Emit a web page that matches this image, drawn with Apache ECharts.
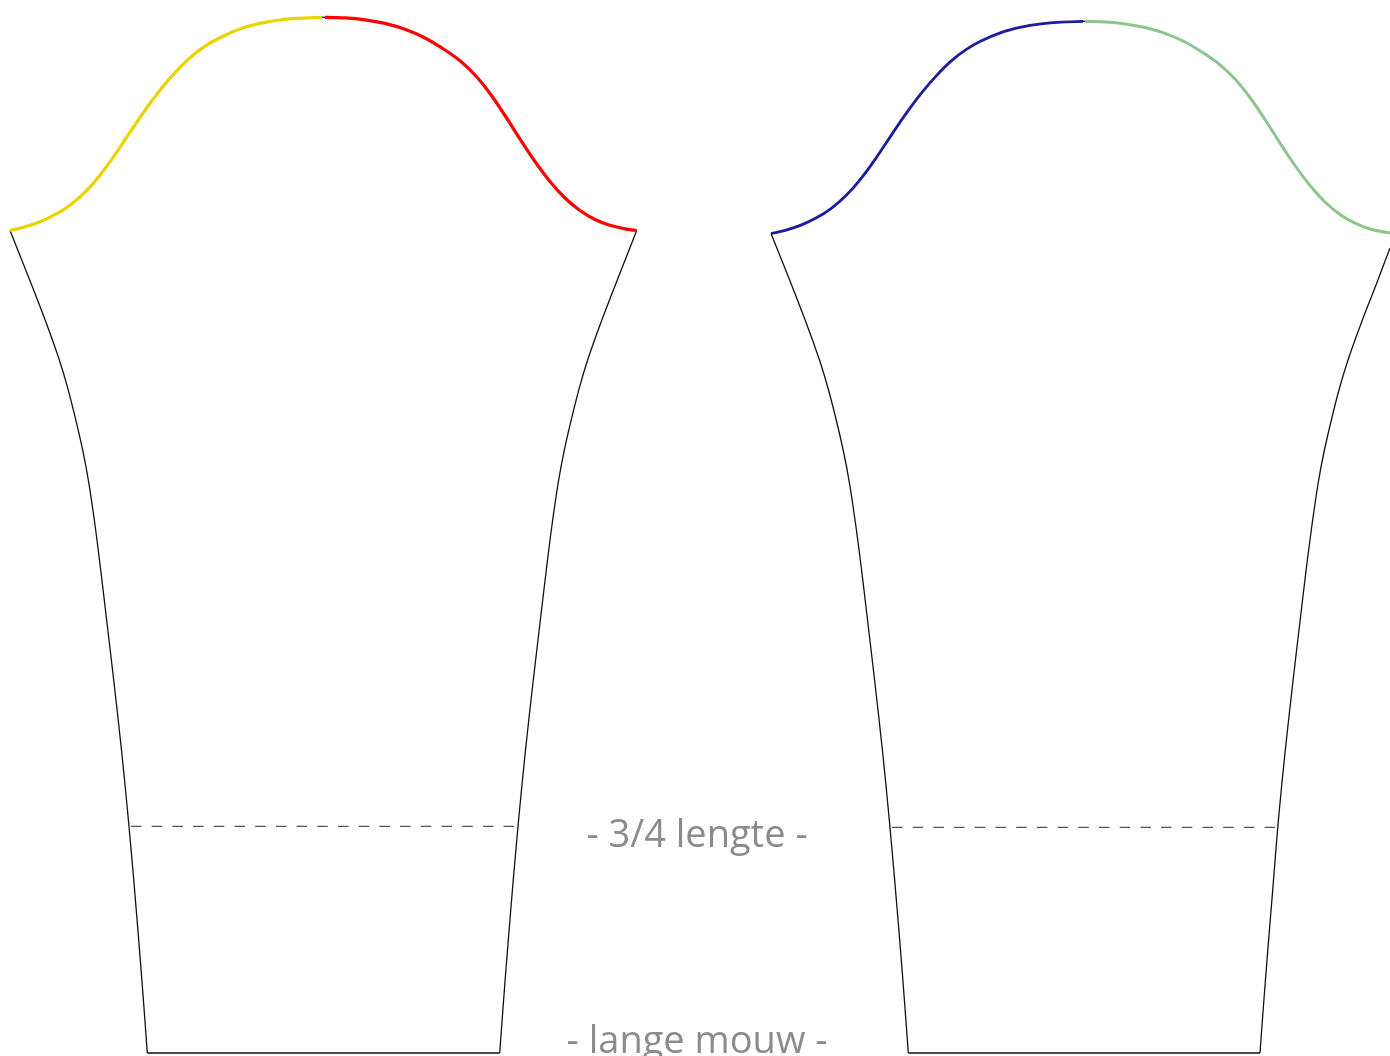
<!DOCTYPE html>
<html><head><meta charset="utf-8">
<style>html,body{margin:0;padding:0;background:#fff}#c{width:1390px;height:1056px}</style>
<script src="https://cdn.jsdelivr.net/npm/echarts@6/dist/echarts.min.js"></script>
</head><body><div id="c"></div>
<script>
const yellowCap=[[10,230.5],[25,226.8],[40,221.7],[55,214.7],[70,205.2],[85,192.2],[100,175.2],[115,154.7],[130,132.2],[145,110.2],[160,90.2],[175,72.7],[190,57.7],[205,46.2],[220,37.7],[240,28.9],[260,23.4],[280,20],[300,18.2],[322,17.3]];
const redCap=[[325,17.3],[345,17.9],[365,19.8],[385,23.4],[405,29.3],[425,38],[445,50],[460,60.8],[475,75],[490,93.5],[505,115.5],[520,139],[535,161.5],[550,181.5],[565,198],[580,210.5],[595,219.5],[610,225.3],[625,228.9],[636.7,230.5]];
const blueCap=[[771,233.5],[786,230.1],[801,225.1],[816,218.1],[831,208.6],[846,195.6],[861,178.6],[876,158.1],[891,135.6],[906,113.6],[921,93.6],[936,76.1],[951,61.1],[966,49.6],[981,41.1],[1001,32.6],[1021,27.2],[1041,23.9],[1061,22.1],[1083,21.3]];
const greenCap=[[1085,21.3],[1105,22],[1125,23.9],[1145,27.5],[1165,33.4],[1185,42],[1205,54],[1220,64.8],[1235,79],[1250,97.5],[1265,119.5],[1280,143],[1295,165.5],[1310,185.5],[1325,202],[1340,214.5],[1355,223.2],[1370,229],[1390,233]];
const leftSideA=[[10,230.5],[30.4,281.7],[45.8,321.7],[58.8,358.3],[67.8,388.3],[76.2,421.7],[83,451.7],[88.6,481.7],[95,525],[100.7,570],[107,623],[113.7,680],[121.5,750],[128.4,820],[134,883],[139.5,950],[143.4,1000],[147.3,1053]];
const hemA=[[147.3,1053],[499.7,1053]];
const rightSideA=[[499.7,1053],[503.6,1000],[507.5,950],[513,883],[518.6,820],[525.5,750],[533.3,680],[540,623],[546.3,570],[552,525],[558.4,481.7],[564,451.7],[570.8,421.7],[579.2,388.3],[588.2,358.3],[601.2,321.7],[616.6,281.7],[636.7,230.5]];
const leftSideB=[[771,233.5],[791.4,284.5],[806.8,324.5],[819.8,361],[828.8,391],[837.2,424],[844,454],[849.6,484],[856,527],[861.7,571],[868,624],[874.7,681],[882.5,751],[889.4,821],[895,884],[900.5,950],[904.4,1000],[908.3,1053]];
const hemB=[[908.3,1053],[1260,1053]];
const rightSideB=[[1260,1053],[1263.9,1000],[1267.8,950],[1273.2,884],[1278.3,821],[1285.2,751],[1293,681],[1299.7,624],[1306,571],[1311.7,527],[1318,484],[1323.6,454],[1330.4,424],[1338.7,391],[1347.7,361],[1360.7,324.5],[1376.2,284.5],[1390,248]];
const capJoinA=[[319,17.3],[328,17.3]];
const capJoinB=[[1080,21.3],[1088,21.3]];
const foldA=[[131,826.3],[517,826.3]];
const foldB=[[892,827.3],[1277,827.3]];
const captions=[{name:'- 3/4 lengte -',value:[697,836]},{name:'- lange mouw -',value:[697,1042]}];

const curve=(data,color,width)=>({type:'line',data,smooth:0.33,symbol:'none',clip:false,silent:true,z:3,
  lineStyle:{color,width,cap:'butt'}});
const outline=(data,smooth)=>({type:'line',data,smooth:smooth?0.33:0,symbol:'none',clip:false,silent:true,z:2,
  lineStyle:{color:'#111',width:1.3}});
const fold=data=>({type:'line',data,symbol:'none',silent:true,z:2,
  lineStyle:{color:'#555',width:1.2,type:[10.5,10.2]}});

const chart=echarts.init(document.getElementById('c'),null,{renderer:'canvas'});
chart.setOption({
  animation:false,backgroundColor:'#fff',
  grid:{left:0,right:0,top:0,bottom:0},
  xAxis:{type:'value',min:0,max:1390,show:false},
  yAxis:{type:'value',min:0,max:1056,inverse:true,show:false},
  series:[
    outline(leftSideA,true),outline(hemA),outline(rightSideA,true),
    outline(leftSideB,true),outline(hemB),outline(rightSideB,true),
    outline(capJoinA),outline(capJoinB),
    fold(foldA),fold(foldB),
    curve(yellowCap,'#ebd300',3.2),curve(redCap,'#ff0000',3.2),
    curve(blueCap,'#1c1c9c',2.8),curve(greenCap,'#8cc68c',3),
    {type:'scatter',data:captions,symbolSize:0,silent:true,clip:false,z:5,
     label:{show:true,position:'inside',formatter:'{b}',color:'#6e6e6e',fontSize:38,fontFamily:'Open Sans'}}
  ]
});
</script></body></html>
